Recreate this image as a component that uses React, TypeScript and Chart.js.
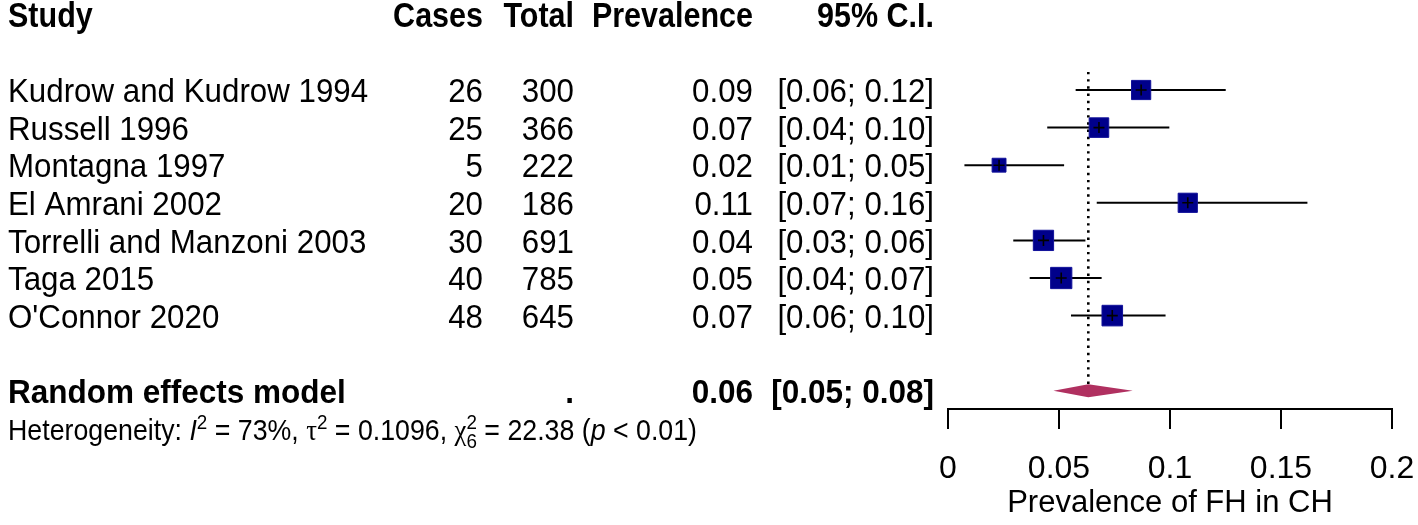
import { useEffect, useRef } from 'react';
import { Chart, registerables } from 'chart.js';

Chart.register(...registerables);

// ---------------- data ----------------
const studies = [
  'Kudrow and Kudrow 1994',
  'Russell 1996',
  'Montagna 1997',
  'El Amrani 2002',
  'Torrelli and Manzoni 2003',
  'Taga 2015',
  "O'Connor 2020",
];
const cases = [26, 25, 5, 20, 30, 40, 48];
const totals = [300, 366, 222, 186, 691, 785, 645];
const prevalence = [0.087, 0.068, 0.023, 0.108, 0.043, 0.051, 0.074];
const ciLow = [0.0575, 0.0447, 0.0074, 0.067, 0.0294, 0.0368, 0.0554];
const ciHigh = [0.1251, 0.0997, 0.0523, 0.1619, 0.0619, 0.0692, 0.098];
const weights = [14.2, 14.7, 7.4, 14.2, 15.8, 17.4, 16.3];
const prevText = ['0.09', '0.07', '0.02', '0.11', '0.04', '0.05', '0.07'];
const ciText = [
  '[0.06; 0.12]',
  '[0.04; 0.10]',
  '[0.01; 0.05]',
  '[0.07; 0.16]',
  '[0.03; 0.06]',
  '[0.04; 0.07]',
  '[0.06; 0.10]',
];
const headers = ['Study', 'Cases', 'Total', 'Prevalence', '95% C.I.'];
const reLabel = 'Random effects model';
const reEst = 0.0632;
const reLo = 0.0475;
const reHi = 0.0832;
const reText = ['.', '0.06', '[0.05; 0.08]'];
const xTicks = [0, 0.05, 0.1, 0.15, 0.2];
const xTickLabels = ['0', '0.05', '0.1', '0.15', '0.2'];
const xTitle = 'Prevalence of FH in CH';

export default function App() {
  const ref = useRef<HTMLCanvasElement>(null);

  useEffect(() => {
    document.body.style.margin = '0';
    const canvas = ref.current;
    if (!canvas) return;
    const W = 1418;
    const H = 525;
    const ROW1 = 90;
    const GAP = 37.6;
    const AXIS_Y = 409;
    const FONT = "'Liberation Sans', Arial, Helvetica, sans-serif";
    const SERIF = "'Liberation Serif', 'DejaVu Serif', serif";
    const rows = studies.map((_, i) => i + 1);
    const reRow = studies.length + 2;
    const hetRow = reRow + 1;
    const headerRow = -1;
    const COL = { study: 8, cases: 483, total: 574, prev: 753, ci: 934 };

    const ciSets = studies.map((_, i) => ({
      label: 'ci' + i,
      data: [
        { x: ciLow[i], y: rows[i] },
        { x: ciHigh[i], y: rows[i] },
      ],
      showLine: true,
      borderColor: '#000',
      borderWidth: 2,
      pointRadius: 0,
      order: 3,
    }));

    const refLine = {
      label: 'ref',
      data: [
        { x: reEst, y: 0.52 },
        { x: reEst, y: reRow },
      ],
      showLine: true,
      borderColor: '#000',
      borderWidth: 2.6,
      borderDash: [2.4, 4.8],
      pointRadius: 0,
      order: 4,
    };

    const squares = {
      label: 'squares',
      data: studies.map((_, i) => ({ x: prevalence[i], y: rows[i] })),
      pointStyle: 'rect',
      pointRadius: weights.map((w) => (5.1 * Math.sqrt(w)) / Math.SQRT2),
      backgroundColor: '#00008B',
      borderColor: '#11119a',
      borderWidth: 1,
      order: 1,
    };

    const crosses = {
      label: 'cross',
      data: studies.map((_, i) => ({ x: prevalence[i], y: rows[i] })),
      pointStyle: 'cross',
      pointRadius: 5.5,
      borderColor: '#000',
      borderWidth: 1.6,
      order: 0,
    };

    const txt = (
      ctx: CanvasRenderingContext2D,
      s: string,
      x: number,
      yc: number,
      size: number,
      bold: boolean,
      align: CanvasTextAlign,
      sy = 1.08
    ) => {
      ctx.save();
      ctx.font = `${bold ? 'bold ' : ''}${size}px ${FONT}`;
      ctx.textAlign = align;
      ctx.textBaseline = 'alphabetic';
      ctx.translate(x, yc + size * 0.358 * sy);
      ctx.scale(1, sy);
      ctx.fillText(s, 0, 0);
      ctx.restore();
    };

    const diamondPlugin = {
      id: 'diamond',
      afterDatasetsDraw(chart: any) {
        const { ctx } = chart;
        const xs = chart.scales.x;
        const ys = chart.scales.y;
        const yc = ys.getPixelForValue(reRow);
        const h = 6.5;
        ctx.save();
        ctx.beginPath();
        ctx.moveTo(xs.getPixelForValue(reLo), yc);
        ctx.lineTo(xs.getPixelForValue(reEst), yc - h);
        ctx.lineTo(xs.getPixelForValue(reHi), yc);
        ctx.lineTo(xs.getPixelForValue(reEst), yc + h);
        ctx.closePath();
        ctx.fillStyle = '#B03060';
        ctx.fill();
        ctx.restore();
      },
    };

    const tablePlugin = {
      id: 'table',
      afterDraw(chart: any) {
        const { ctx } = chart;
        const ys = chart.scales.y;
        const py = (r: number) => ys.getPixelForValue(r);
        ctx.save();
        ctx.fillStyle = '#000';
        // header
        const hy = py(headerRow);
        const cols = [COL.study, COL.cases, COL.total, COL.prev, COL.ci];
        headers.forEach((h, i) => {
          txt(ctx, h, cols[i], hy, 30.5, true, i === 0 ? 'left' : 'right', 1.12);
        });
        // study rows
        studies.forEach((s, i) => {
          const y = py(rows[i]);
          txt(ctx, s, COL.study, y, 31.3, false, 'left');
          txt(ctx, String(cases[i]), COL.cases, y, 31.3, false, 'right');
          txt(ctx, String(totals[i]), COL.total, y, 31.3, false, 'right');
          txt(ctx, prevText[i], COL.prev, y, 31.3, false, 'right');
          txt(ctx, ciText[i], COL.ci, y, 31.3, false, 'right');
        });
        // random effects row
        const ry = py(reRow);
        txt(ctx, reLabel, COL.study, ry, 31.5, true, 'left');
        txt(ctx, reText[0], COL.total, ry, 31.5, true, 'right');
        txt(ctx, reText[1], COL.prev, ry, 31.5, true, 'right');
        txt(ctx, reText[2], COL.ci, ry, 31.5, true, 'right');

        // heterogeneity line
        const base = py(hetRow) + 12;
        const S = 27;
        const s2 = 19;
        type Part = { t: string; f: string; dy: number; stack?: string };
        const parts: Part[] = [
          { t: 'Heterogeneity: ', f: `${S}px ${FONT}`, dy: 0 },
          { t: 'I', f: `italic ${S}px ${FONT}`, dy: 0 },
          { t: '2', f: `${s2}px ${FONT}`, dy: -11 },
          { t: ' = 73%, ', f: `${S}px ${FONT}`, dy: 0 },
          { t: 'τ', f: `${S}px ${SERIF}`, dy: 0 },
          { t: '2', f: `${s2}px ${FONT}`, dy: -11 },
          { t: ' = 0.1096, ', f: `${S}px ${FONT}`, dy: 0 },
          { t: 'χ', f: `${S}px ${SERIF}`, dy: 0 },
          { t: '2', f: `${s2}px ${FONT}`, dy: -11, stack: '6' },
          { t: ' = 22.38 (', f: `${S}px ${FONT}`, dy: 0 },
          { t: 'p', f: `italic ${S}px ${FONT}`, dy: 0 },
          { t: ' < 0.01)', f: `${S}px ${FONT}`, dy: 0 },
        ];
        ctx.textAlign = 'left';
        ctx.textBaseline = 'alphabetic';
        let total = 0;
        const widths = parts.map((p) => {
          ctx.font = p.f;
          let w = ctx.measureText(p.t).width;
          if (p.stack) w = Math.max(w, ctx.measureText(p.stack).width);
          total += w;
          return w;
        });
        const sx = 689 / total;
        ctx.translate(COL.study, base);
        ctx.scale(sx, 1.08);
        let x = 0;
        parts.forEach((p, i) => {
          ctx.font = p.f;
          ctx.fillText(p.t, x, p.dy);
          if (p.stack) ctx.fillText(p.stack, x, 7);
          x += widths[i];
        });
        ctx.restore();
      },
    };

    const chart = new Chart(canvas, {
      type: 'scatter',
      data: { datasets: [crosses, squares, ...ciSets, refLine] as any },
      options: {
        animation: false,
        responsive: false,
        devicePixelRatio: 1,
        layout: { autoPadding: false, padding: { left: 948, right: W - 1392, top: 0, bottom: 0 } },
        plugins: { legend: { display: false }, tooltip: { enabled: false } },
        scales: {
          x: {
            type: 'linear',
            min: 0,
            max: 0.2,
            afterBuildTicks: (s: any) => {
              s.ticks = xTicks.map((v) => ({ value: v }));
            },
            afterFit: (s: any) => {
              s.height = H - AXIS_Y;
              s.paddingLeft = 0;
              s.paddingRight = 0;
            },
            ticks: {
              callback: (_v: any, i: number) => xTickLabels[i],
              font: { family: FONT, size: 32 },
              color: '#000',
              padding: 21,
              maxRotation: 0,
              autoSkip: false,
            },
            grid: {
              drawOnChartArea: false,
              drawTicks: true,
              tickLength: 20,
              color: '#000',
              lineWidth: 2,
            },
            border: { display: true, color: '#000', width: 2 },
            title: {
              display: true,
              text: xTitle,
              font: { family: FONT, size: 31 },
              color: '#000',
              padding: { top: 0, bottom: 3 },
            },
          },
          y: {
            type: 'linear',
            display: false,
            reverse: true,
            min: 1 - ROW1 / GAP,
            max: 1 + (AXIS_Y - ROW1) / GAP,
          },
        },
      } as any,
      plugins: [diamondPlugin, tablePlugin],
    });
    return () => chart.destroy();
  }, []);

  return <canvas ref={ref} width={1418} height={525} style={{ display: 'block' }} />;
}
